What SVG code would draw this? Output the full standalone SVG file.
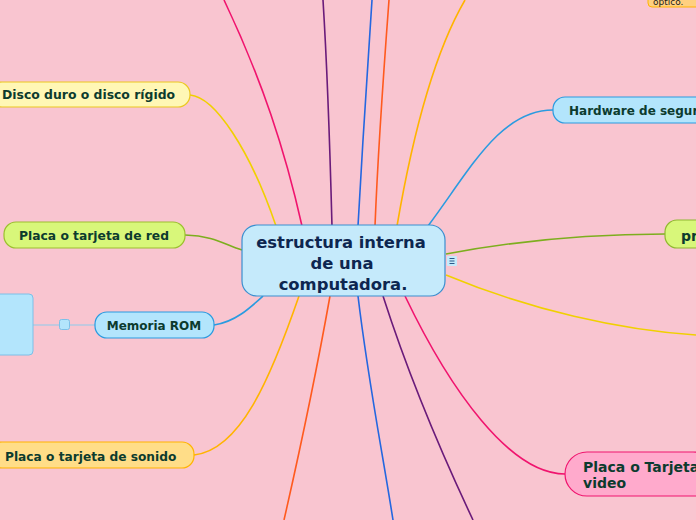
<svg xmlns="http://www.w3.org/2000/svg" width="696" height="520" viewBox="0 0 696 520">
<style>
.e{fill:none;stroke-width:1.6}
.t{font-family:"DejaVu Sans",Verdana,sans-serif;font-weight:bold;fill:#0C3B2E}
.n{stroke-width:1.2}
</style>
<rect x="0" y="0" width="696" height="520" fill="#F9C5D0"/>
<g id="connectors">
<path class="e" stroke="#F0146E" d="M302,226 C285,150 262,80 224,0"/>
<path class="e" stroke="#6A1B7A" d="M332,226 C330,150 328,80 323,0"/>
<path class="e" stroke="#2467E0" d="M358,226 C362,150 367,80 372,0"/>
<path class="e" stroke="#FF5A1E" d="M375,226 C378,150 383,80 389,0"/>
<path class="e" stroke="#FFB400" d="M397,226 C410,150 430,60 465,0"/>
<path class="e" stroke="#2A9BE0" d="M428,226 C470,170 500,110 553,110"/>
<path class="e" stroke="#7DAE1E" d="M446,254 C520,240 600,234 665,234"/>
<path class="e" stroke="#F0D000" d="M446,275 C530,310 620,330 696,335"/>
<path class="e" stroke="#F0146E" d="M405,296 C450,390 510,474 565,474"/>
<path class="e" stroke="#6A1B7A" d="M383,296 C410,380 440,450 473,520"/>
<path class="e" stroke="#2467E0" d="M358,296 C368,380 382,450 393,520"/>
<path class="e" stroke="#FF5A1E" d="M330,296 C315,380 300,450 284,520"/>
<path class="e" stroke="#FFB400" d="M194,455 C240,450 270,380 299,296"/>
<path class="e" stroke="#2A9BE0" d="M214,325 C235,322 250,308 263,296"/>
<path class="e" stroke="#7DAE1E" d="M185,235 C215,236 225,245 242,250"/>
<path class="e" stroke="#F0D000" d="M190,95 C215,97 250,150 276,226"/>
<path fill="none" stroke="#8ECBEB" stroke-width="1.2" d="M33,325 L95,325"/>
</g>
<g id="center">
<rect x="242" y="225" width="203" height="71" rx="15" fill="#C5EAFB" stroke="#3A8FD0" stroke-width="1.2"/>
<text class="t" font-size="16.4" style="fill:#0D2650" text-anchor="middle"><tspan x="341" y="248">estructura interna</tspan><tspan x="342" y="269">de una</tspan><tspan x="343" y="290">computadora.</tspan></text>
<rect x="447" y="256" width="10" height="10" rx="1" fill="#C5EAFB"/>
<path d="M449.5,258.5h5M449.5,261h5M449.5,263.5h5" stroke="#2A5A8A" stroke-width="1"/>
</g>
<g id="disco">
<rect x="-10" y="82" width="200" height="25" rx="12" fill="#FFF7B5" stroke="#EBC820" class="n"/>
<text class="t" font-size="12.4" x="2" y="99">Disco duro o disco rígido</text>
</g>
<g id="red">
<rect x="4" y="222" width="181" height="26" rx="12" fill="#D8F77A" stroke="#9BC02E" class="n"/>
<text class="t" font-size="12.3" x="94" y="240" text-anchor="middle">Placa o tarjeta de red</text>
</g>
<g id="rom">
<rect x="95" y="312" width="119" height="26" rx="12" fill="#B3E5FC" stroke="#2A9BE0" class="n"/>
<text class="t" font-size="12" x="154" y="330" text-anchor="middle">Memoria ROM</text>
</g>
<g id="rombox">
<rect x="-5" y="294" width="38" height="61" rx="4" fill="#B3E5FC" stroke="#7CC0E8" stroke-width="1"/>
<rect x="59.5" y="319.5" width="10" height="10" rx="2" fill="#B3E5FC" stroke="#7CC0E8" stroke-width="1"/>
</g>
<g id="sonido">
<rect x="-10" y="442" width="204" height="26" rx="12" fill="#FFDD88" stroke="#FFB400" class="n"/>
<text class="t" font-size="12.2" x="5" y="461">Placa o tarjeta de sonido</text>
</g>
<g id="hardware">
<rect x="553" y="97" width="160" height="26" rx="12" fill="#B3E5FC" stroke="#2A9BE0" class="n"/>
<text class="t" font-size="12" x="569" y="115">Hardware de seguri</text>
</g>
<g id="pr">
<rect x="665" y="220" width="50" height="28" rx="12" fill="#D8F77A" stroke="#90B830" class="n"/>
<text class="t" font-size="14" x="681" y="241">pr</text>
</g>
<g id="video">
<rect x="565" y="452" width="150" height="44" rx="22" fill="#FFAACC" stroke="#F0146E" class="n"/>
<text class="t" font-size="14"><tspan x="583" y="472">Placa o Tarjeta</tspan><tspan x="583" y="488">video</tspan></text>
</g>
<g id="optico">
<rect x="648" y="-12" width="60" height="19" rx="4" fill="#FFD080" stroke="#FFB400" stroke-width="1"/>
<text font-family="DejaVu Sans,sans-serif" font-size="9" x="653" y="4.5" fill="#1A1A1A">óptico.</text>
</g>
</svg>
